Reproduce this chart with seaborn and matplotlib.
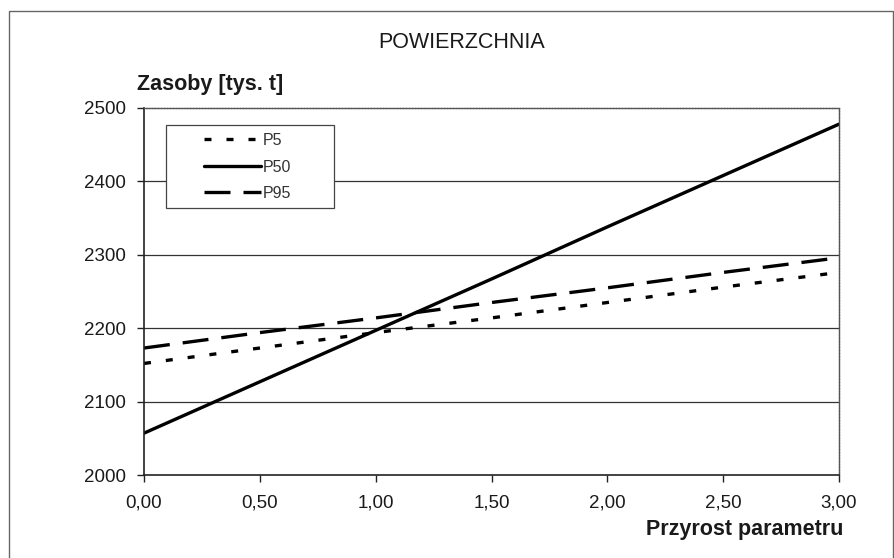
import matplotlib
matplotlib.use("Agg")
import matplotlib.pyplot as plt
import matplotlib.patches as mpatches
from matplotlib.ticker import FuncFormatter
from matplotlib.lines import Line2D
import seaborn as sns
import pandas as pd

# ---- data ----
x_vals = [0.0, 0.5, 1.0, 1.5, 2.0, 2.5, 3.0]
p5 = [2152, 2173, 2194, 2214, 2235, 2256, 2276]
p50 = [2057, 2127, 2197, 2267, 2338, 2408, 2478]
p95 = [2173, 2194, 2214, 2235, 2255, 2276, 2296]
series_names = ["P5", "P50", "P95"]
title_text = "POWIERZCHNIA"
ylabel_text = "Zasoby [tys. t]"
xlabel_text = "Przyrost parametru"
y_ticks = [2000, 2100, 2200, 2300, 2400, 2500]
x_ticks = [0.0, 0.5, 1.0, 1.5, 2.0, 2.5, 3.0]

df = pd.DataFrame({
    "x": x_vals * 3,
    "y": p5 + p50 + p95,
    "seria": [n for n, v in zip(series_names, [p5, p50, p95]) for _ in v],
})

sns.set_theme(style="white")
plt.rcParams["font.family"] = ["Liberation Sans", "DejaVu Sans"]

W, H = 895, 558
fig = plt.figure(figsize=(W / 100, H / 100), dpi=100)
fig.patch.set_facecolor("white")

L, R, T, B = 144, 839, 108, 475
ax = fig.add_axes([L / W, 1 - B / H, (R - L) / W, (B - T) / H])

LW = 2.4
dashes = {"P5": (2.1, 4.5), "P50": "", "P95": (7.8, 3.9)}
sns.lineplot(data=df, x="x", y="y", style="seria", dashes=dashes,
             color="black", linewidth=LW, ax=ax, legend=False)

ax.set_xlim(0, 3)
ax.set_ylim(2000, 2500)
ax.set_xticks(x_ticks)
ax.set_yticks(y_ticks)
ax.xaxis.set_major_formatter(FuncFormatter(lambda v, p: f"{v:.2f}".replace(".", ",")))
ax.yaxis.set_major_formatter(FuncFormatter(lambda v, p: f"{v:.0f}"))
ax.set_xlabel("")
ax.set_ylabel("")
ax.tick_params(axis="both", which="major", direction="out", length=5, width=1,
               color="#222222", labelsize=13.5, labelcolor="#1a1a1a",
               bottom=True, left=True)
ax.tick_params(axis="x", pad=9)
ax.tick_params(axis="y", pad=8)

for yv in y_ticks[1:-1]:
    ax.axhline(yv, color="#333333", linewidth=0.9, zorder=0)

for side in ["left", "bottom"]:
    ax.spines[side].set_color("#222222")
    ax.spines[side].set_linewidth(1.2)
for side in ["top", "right"]:
    ax.spines[side].set_color("#555555")
    ax.spines[side].set_linewidth(1.0)
    ax.spines[side].set_linestyle((0, (1.5, 0.6)))

# legend (frameless entries + separate box)
handles = [Line2D([], [], color="black", linewidth=LW,
                  linestyle=(0, dashes[n]) if dashes[n] else "-") for n in series_names]
leg = fig.legend(handles, series_names, loc="upper left",
                 bbox_to_anchor=(204 / W, 1 - 133 / H), fontsize=11.5,
                 handlelength=3.6, handletextpad=0.05, labelspacing=0.72,
                 borderpad=0, borderaxespad=0, frameon=False)
for t in leg.get_texts():
    t.set_color("#333333")
box = mpatches.Rectangle((166 / W, 1 - 208 / H), (334 - 166) / W, (208 - 125) / H,
                         transform=fig.transFigure, fill=True, facecolor="white",
                         edgecolor="#444444", linewidth=0.9, zorder=4)
fig.patches.append(box)
leg.set_zorder(5)

# texts
fig.text(462 / W, 1 - 42 / H, title_text, ha="center", va="center", fontsize=15.5, color="#1a1a1a")
fig.text(137 / W, 1 - 85 / H, ylabel_text, ha="left", va="center", fontsize=15.5,
         fontweight="bold", color="#1a1a1a")
fig.text(843 / W, 1 - 530 / H, xlabel_text, ha="right", va="center", fontsize=15.5,
         fontweight="bold", color="#1a1a1a")

# outer frame
frame = mpatches.Rectangle((9 / W, -2 / H), (893 - 9) / W, (H - 11 + 2) / H,
                           transform=fig.transFigure, fill=False,
                           edgecolor="#666666", linewidth=1.0)
fig.patches.append(frame)

fig.savefig("out.png", dpi=100)
